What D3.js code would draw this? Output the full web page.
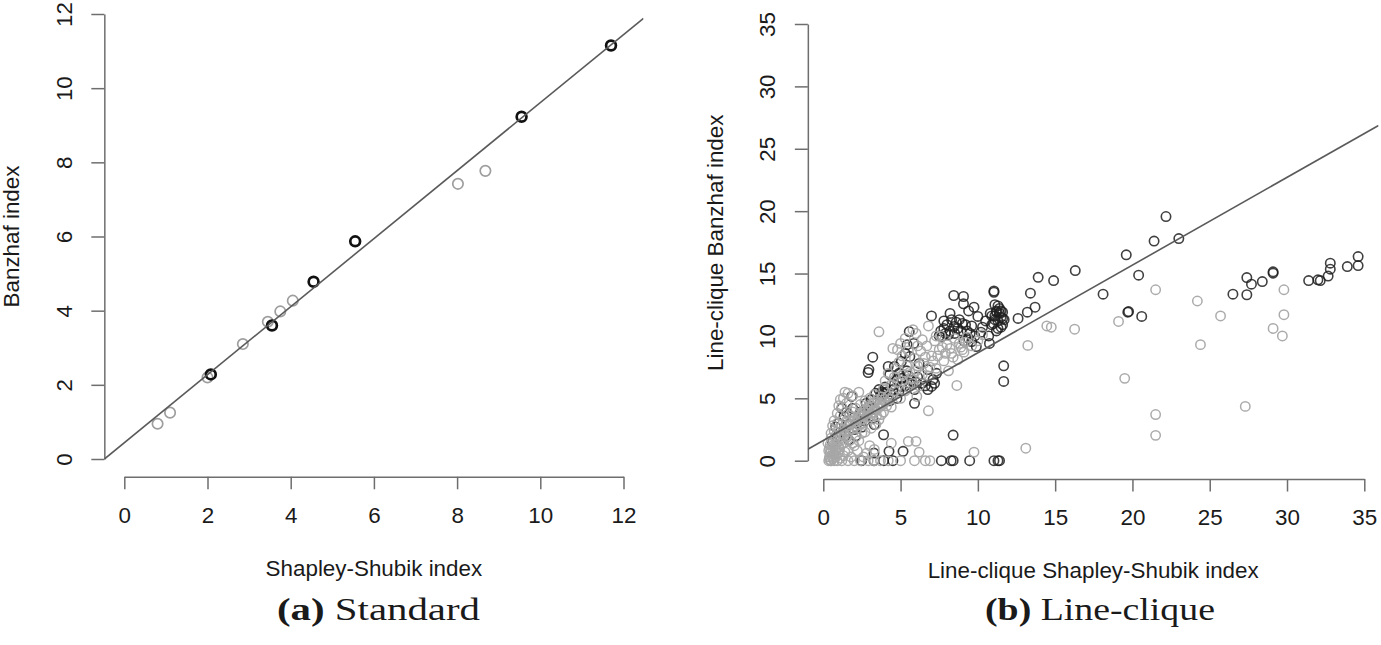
<!DOCTYPE html>
<html>
<head>
<meta charset="utf-8">
<script src="https://cdn.jsdelivr.net/npm/d3@7"></script>
<style>
  body { margin: 0; background: #fff; }
  svg text { font-family: "Liberation Sans", Arial, sans-serif; fill: #1a1a1a; }
  .axis path, .axis line { stroke: #6e6e6e; stroke-width: 1.5px; }
  svg text.caption { font-family: "Liberation Serif", "Times New Roman", serif; }
</style>
</head>
<body>
<div id="chart"></div>
<script>
// panel (a) standard: [shapley-shubik, banzhaf]
const standardBlack = [[2.08,2.28],[3.55,3.6],[4.55,4.78],[5.55,5.87],[9.55,9.23],[11.7,11.15]];
const standardGray = [[0.8,0.95],[1.1,1.25],[2.0,2.2],[2.85,3.1],[3.45,3.7],[3.75,3.98],[4.05,4.27],[8.02,7.42],[8.68,7.77]];
const standardFit = [0.44, 0.917]; // intercept, slope
const standardTicks = [0,2,4,6,8,10,12];

// panel (b) line-clique
const cliqueDark = [
  [0.6,1.5],[0.8,2.7],[1.0,3.0],[1.2,4.2],[1.34,3.55],[1.5,3.9],[1.63,1.68],[1.83,5.15],[2.0,2.5],[2.2,3.0],
  [2.4,3.9],[2.62,3.7],[2.77,4.6],[3.0,4.4],[3.2,3.4],[3.3,2.9],[2.9,7.07],[2.95,7.3],[3.2,8.3],[3.6,5.7],
  [3.8,5.5],[3.9,5.4],[4.0,5.9],[4.2,7.55],[4.3,4.8],[4.5,5.7],[4.6,7.55],[4.76,5.0],[4.76,6.5],[5.05,5.95],
  [5.05,7.95],[5.3,8.6],[5.42,9.3],[5.56,10.35],[5.6,6.2],[5.6,8.35],[5.85,9.4],[5.9,4.6],[6.0,6.3],[6.2,7.8],
  [6.76,5.7],[6.76,7.3],[7.0,5.95],[7.0,11.6],[7.2,6.2],[7.33,7.0],[7.5,10.0],[7.7,9.96],[7.9,10.2],[8.0,10.9],
  [8.2,10.4],[8.44,13.24],[8.47,10.76],[8.6,11.1],[8.8,11.3],[8.9,10.4],[9.07,13.16],[9.07,12.57],[9.2,10.9],[9.4,9.8],
  [9.5,10.2],[9.6,9.55],[9.75,12.3],[9.9,9.15],[10.0,11.56],[10.3,10.7],[10.75,9.4],[10.9,10.9],[11.04,13.6],[11.04,13.5],
  [11.1,12.5],[11.2,11.9],[11.3,11.2],[11.4,12.2],[11.5,11.5],[11.6,10.9],[11.3,10.6],[11.1,11.6],[11.5,12.0],[11.7,11.3],
  [11.2,10.4],[11.0,11.0],[11.6,11.9],[11.67,7.6],[11.67,6.35],[12.6,11.4],[13.2,11.9],[13.4,13.43],[13.7,12.3],[13.9,14.7],
  [14.9,14.44],[16.3,15.24],[18.1,13.35],[19.6,16.5],[19.7,11.9],[19.75,11.95],[20.4,14.87],[20.6,11.56],[21.4,17.6],[22.17,19.57],
  [23.0,17.8],[26.5,13.35],[27.4,14.68],[27.4,13.3],[27.7,14.15],[28.4,14.36],[29.1,15.14],[29.1,15.03],[31.4,14.44],[32.0,14.5],
  [32.15,14.44],[32.66,14.8],[32.8,15.35],[32.8,15.83],[33.9,15.56],[34.6,16.36],[34.6,15.64],
  [2.48,0],[3.28,0],[3.9,0],[4.5,0],[7.64,0],[8.27,0],[8.4,0],[9.47,0],[11.04,0],[11.3,0],[11.4,0],
  [8.4,2.05],[3.9,2.08],[5.16,0.75],[4.25,0.75],[3.28,0.61],
  [3.7,5.2],[4.1,5.5],[4.4,5.3],[4.6,6.1],[4.9,5.6],[5.1,6.6],[5.3,6.0],[5.5,6.8],[5.7,6.4],[5.9,5.7],
  [6.1,6.7],[4.3,6.9],[4.9,7.0],[5.4,7.2],[6.4,6.2],[6.6,6.0],[7.1,6.5],[3.4,5.4],[3.1,4.9],
  [7.6,10.4],[7.8,10.6],[8.1,10.1],[8.3,11.3],[8.5,10.2],[8.7,10.6],[9.0,11.0],[9.1,9.6],[9.3,10.4],[9.6,10.8],
  [9.8,10.0],[10.2,10.3],[10.5,11.2],[10.7,10.0],[10.9,11.6],[11.2,12.0],[11.4,11.8],[11.5,10.7],[11.6,11.4],[11.1,11.3],
  [11.3,12.4],[10.8,11.8],[9.4,12.0],[8.2,11.8],[7.8,11.2],
  [0.9,1.9],[1.1,2.3],[1.4,2.0],[1.7,2.9],[2.1,2.0],[2.5,2.7],[2.7,3.2],[1.9,4.2]
];
const cliqueGray = [
  [0.35,0],[0.5,0],[0.7,0],[0.9,0],[1.2,0],[1.6,0],[2.0,0],[2.4,0],[2.9,0],[3.3,0],[3.7,0],[4.2,0],[5.0,0],[5.9,0],[6.6,0],[6.9,0],
  [0.4,0.3],[0.45,0.6],[0.5,0.9],[0.6,1.2],[0.4,1.0],[0.7,0.5],[0.8,0.8],[0.9,1.5],[1.0,1.1],[1.1,1.8],
  [1.2,2.2],[1.3,1.4],[1.0,2.6],[0.8,2.0],[1.4,2.8],[1.5,3.2],[1.6,2.4],[1.7,3.6],[1.8,2.9],[1.9,3.9],
  [2.0,3.3],[2.1,4.2],[2.2,2.6],[2.3,3.7],[2.4,4.5],[2.5,3.0],[2.6,4.0],[2.7,4.8],[2.8,3.5],[2.9,4.3],
  [3.0,5.0],[3.1,3.8],[3.2,4.6],[3.3,5.3],[3.4,4.1],[3.5,4.9],[3.6,3.3],[3.7,4.4],[3.8,5.1],[3.9,3.9],
  [4.0,4.7],[4.2,5.2],[4.4,4.3],[1.5,4.6],[1.6,5.4],[1.3,5.0],[1.2,4.3],[1.1,3.6],[0.9,3.0],[1.7,1.6],
  [2.1,1.9],[2.5,2.2],[0.6,0.2],[1.3,0.4],[1.6,0.8],[2.0,1.2],[2.8,0.6],[3.3,0.9],[0.3,1.4],[0.5,1.8],
  [0.7,2.4],[1.9,5.2],[2.3,5.5],
  [0.4,0.1],[0.55,0.4],[0.65,0.7],[0.75,1.0],[0.85,1.3],[0.95,0.6],[1.05,0.9],[1.15,1.3],[1.25,1.7],[1.35,2.0],
  [1.45,2.4],[1.55,1.9],[1.65,2.8],[1.75,3.1],[1.85,2.5],[1.95,3.5],[2.05,2.8],[2.15,3.1],[2.25,3.4],[2.35,2.9],
  [2.45,3.6],[2.55,3.3],[2.65,3.6],[2.75,4.1],[2.85,3.8],[2.95,4.0],[3.05,3.5],[3.15,4.3],[3.25,3.9],[3.35,4.7],
  [3.45,3.6],[3.55,4.2],[3.65,4.6],[3.75,3.7],[3.85,4.5],[3.95,4.9],[4.1,4.4],[4.3,4.9],[4.5,5.2],[1.9,1.4],
  [2.3,1.6],[2.7,2.3],[3.1,2.6],[3.4,2.9],[0.5,2.2],[0.6,2.8],[0.7,3.2],[0.9,3.8],[1.0,4.4],[1.1,4.9],
  [1.4,5.5],[0.5,0.0],[0.8,0.3],[1.1,0.2],[1.4,0.7],[1.8,0.3],[2.2,0.8],[2.6,0.3],[3.0,1.2],[0.45,1.3],[0.35,0.8],
  [4.6,5.6],[4.8,6.3],[5.0,5.0],[5.2,6.9],[5.4,7.6],[5.5,5.9],[5.7,6.6],[5.9,8.2],[6.0,7.2],[6.2,6.0],
  [6.3,8.8],[6.5,7.8],[6.7,9.2],[6.8,6.8],[7.0,8.4],[7.2,9.6],[7.3,7.4],[7.5,8.9],[7.6,10.0],[7.8,8.0],
  [8.0,9.3],[8.1,7.2],[8.3,8.6],[8.5,9.8],[8.7,8.1],[8.9,9.1],[9.1,8.7],[9.3,9.9],[9.6,9.2],[10.0,9.6],
  [10.3,10.1],[4.8,8.9],[5.0,9.4],[5.3,9.8],[4.5,9.0],[6.0,10.2],[5.8,10.5],[6.8,10.8],[7.3,10.0],[4.2,7.0],
  [4.0,6.4],[3.9,5.8],[6.8,4.0],[6.05,5.15],[8.64,6.03],[3.6,10.33],
  [5.1,6.4],[5.3,5.6],[5.6,7.1],[5.8,6.2],[6.1,7.6],[6.4,6.9],[6.6,8.3],[6.9,7.5],[7.1,8.0],[7.4,8.4],
  [7.7,9.1],[7.9,8.6],[8.2,9.0],[8.4,8.3],[8.8,9.4],[9.0,8.9],[9.2,9.5],[4.7,7.4],[4.9,7.9],[5.1,8.4],
  [5.5,8.8],[6.4,9.7],[6.1,9.2],[4.4,6.1],[4.6,6.7],
  [13.1,1.0],[9.75,0.69],[5.5,1.55],[6.0,1.55],[6.2,0.69],[4.4,1.4],[14.46,10.8],[14.75,10.7],[16.26,10.54],[13.23,9.24],
  [19.1,11.16],[19.5,6.6],[21.5,13.7],[21.5,3.7],[21.5,2.03],[24.2,12.8],[24.4,9.3],[25.7,11.6],[27.3,4.35],[29.1,10.6],
  [29.7,10.0],[29.8,11.7],[29.8,13.7]
];
const cliqueFit = [1.617, 0.703];
const cliqueTicks = [0,5,10,15,20,25,30,35];

const width = 1381, height = 645;

const svg = d3.select("#chart").append("svg")
  .attr("width", width).attr("height", height)
  .style("background", "#fff");

// R-style panel: axes at plot region edges, labels parallel to axes
function drawPanel(cfg) {
  let x = d3.scaleLinear().domain([0, cfg.ticks[cfg.ticks.length-1]]).range(cfg.xRange),
    y = d3.scaleLinear().domain([0, cfg.ticks[cfg.ticks.length-1]]).range(cfg.yRange);

  let left = x(cfg.xLim[0]), right = x(cfg.xLim[1]),
    top = y(cfg.yLim[1]), bottom = y(cfg.yLim[0]);

  let g = svg.append("g");

  g.append("clipPath").attr("id", cfg.id)
    .append("rect")
    .attr("x", left).attr("y", top)
    .attr("width", right - left).attr("height", bottom - top);

  let xAxis = d3.axisBottom(x).tickValues(cfg.ticks).tickSize(12.5).tickSizeOuter(0);
  let yAxis = d3.axisLeft(y).tickValues(cfg.ticks).tickSize(13).tickSizeOuter(0);

  g.append("g").attr("class", "axis")
    .attr("transform", `translate(0,${bottom})`)
    .call(xAxis)
    .call(a => a.selectAll("text")
      .attr("y", cfg.xTickY).attr("dy", 0)
      .style("font-size", "22.4px").attr("fill", "#1a1a1a"));

  g.append("g").attr("class", "axis")
    .attr("transform", `translate(${left},0)`)
    .call(yAxis)
    .call(a => a.selectAll("text")
      .attr("x", 0).attr("dy", 0)
      .attr("text-anchor", "middle")
      .attr("transform", "translate(-32.5,0) rotate(-90)")
      .style("font-size", "22.4px").attr("fill", "#1a1a1a"));

  g.selectAll(".domain").attr("fill", "none");

  // axis titles
  g.append("text")
    .attr("x", (left + right) / 2).attr("y", cfg.xTitleY)
    .attr("text-anchor", "middle")
    .style("font-size", "22.4px")
    .text(cfg.xTitle);

  g.append("text")
    .attr("transform", `translate(${left - 85},${(top + bottom) / 2}) rotate(-90)`)
    .attr("text-anchor", "middle")
    .style("font-size", "22.4px")
    .text(cfg.yTitle);

  let plot = g.append("g").attr("clip-path", `url(#${cfg.id})`);

  // points
  cfg.series.forEach(s => {
    plot.append("g").selectAll("circle")
      .data(s.data)
      .join("circle")
      .attr("cx", d => x(d[0]))
      .attr("cy", d => y(d[1]))
      .attr("r", s.r)
      .attr("fill", "none")
      .attr("stroke", s.color)
      .attr("stroke-opacity", s.opacity)
      .attr("stroke-width", s.sw);
  });

  // fitted line
  let fx = cfg.xLim;
  plot.append("line")
    .attr("x1", x(fx[0])).attr("y1", y(cfg.fit[0] + cfg.fit[1] * fx[0]))
    .attr("x2", x(fx[1])).attr("y2", y(cfg.fit[0] + cfg.fit[1] * fx[1]))
    .attr("stroke", "#5a5a5a").attr("stroke-width", 1.6);

  // caption
  let cap = svg.append("text")
    .attr("class", "caption")
    .attr("x", cfg.cap[0]).attr("y", 620)
    .attr("textLength", cfg.cap[1]).attr("lengthAdjust", "spacingAndGlyphs")
    .style("font-size", "31px").attr("fill", "#111");
  cap.append("tspan").style("font-weight", "bold").text(cfg.capLetter);
  cap.append("tspan").text(" " + cfg.capText);
}

drawPanel({
  id: "clipA",
  ticks: standardTicks,
  xRange: [124.3, 623.5], yRange: [459, 14],
  xLim: [-0.48, 12.48], yLim: [-0.48, 12.48],
  xTickY: 46.5, xTitleY: 576,
  xTitle: "Shapley-Shubik index", yTitle: "Banzhaf index",
  fit: standardFit,
  series: [
    { data: standardGray, color: "#9e9e9e", opacity: 1, r: 5.2, sw: 1.7 },
    { data: standardBlack, color: "#111", opacity: 1, r: 4.9, sw: 2.7 }
  ],
  cap: [277, 203], capLetter: "(a)", capText: "Standard"
});

drawPanel({
  id: "clipB",
  ticks: cliqueTicks,
  xRange: [823.3, 1364.3], yRange: [460.7, 24],
  xLim: [-1.0, 35.92], yLim: [-1.47, 36.4],
  xTickY: 45.5, xTitleY: 578,
  xTitle: "Line-clique Shapley-Shubik index", yTitle: "Line-clique Banzhaf index",
  fit: cliqueFit,
  series: [
    { data: cliqueDark, color: "#1e1e1e", opacity: 0.85, r: 4.7, sw: 1.6 },
    { data: cliqueGray, color: "#a6a6a6", opacity: 0.95, r: 4.7, sw: 1.5 }
  ],
  cap: [985, 230], capLetter: "(b)", capText: "Line-clique"
});
</script>
</body>
</html>
